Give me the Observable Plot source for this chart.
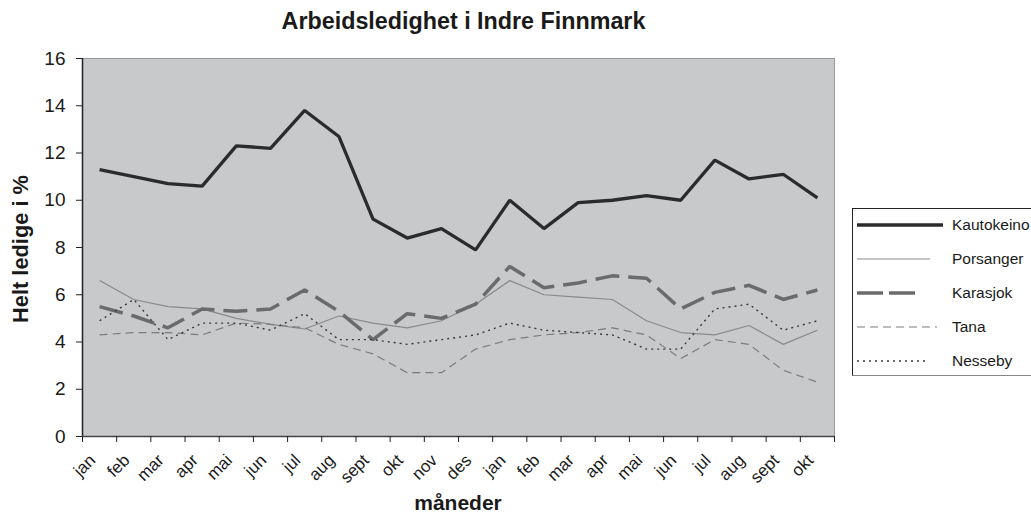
<!DOCTYPE html>
<html><head><meta charset="utf-8">
<script src="https://cdn.jsdelivr.net/npm/d3@7"></script>
<script src="https://cdn.jsdelivr.net/npm/@observablehq/plot@0.6"></script>
<style>
body{margin:0;background:#fff;font-family:"Liberation Sans",Arial,sans-serif;color:#1a1a1a}
#wrap{position:relative;width:1031px;height:524px;overflow:hidden}
#chart{position:absolute;left:0;top:0}
.title{position:absolute;left:0;width:927px;top:8px;text-align:center;font-weight:bold;font-size:23.3px}
.ylab{position:absolute;left:21px;top:249px;transform:translate(-50%,-50%) rotate(-90deg);font-weight:bold;font-size:21.8px;white-space:nowrap}
.xlab{position:absolute;left:0;width:916px;top:491px;text-align:center;font-weight:bold;font-size:21px}
.legend{position:absolute;left:852px;top:208px;width:200px;height:168px;border:1px solid #222;border-bottom-color:#888;box-sizing:border-box;background:#fff}
.legend .row{position:absolute;left:0;height:20px;display:flex;align-items:center}
.legend svg{position:absolute;left:4px;top:0}
.legend span{position:absolute;left:99px;top:0;line-height:20px;font-size:15.5px;white-space:nowrap}
</style></head><body>
<div id="wrap">
<div id="chart"></div>
<div class="title">Arbeidsledighet i Indre Finnmark</div>
<div class="ylab">Helt ledige i %</div>
<div class="xlab">måneder</div>
<div class="legend" id="legend"></div>
</div>
<script>
const months = ["jan","feb","mar","apr","mai","jun","jul","aug","sept","okt","nov","des",
                "jan","feb","mar","apr","mai","jun","jul","aug","sept","okt"];
const seriesNames = ["Kautokeino","Porsanger","Karasjok","Tana","Nesseby"];
const kautokeino = [11.3,11.0,10.7,10.6,12.3,12.2,13.8,12.7,9.2,8.4,8.8,7.9,10.0,8.8,9.9,10.0,10.2,10.0,11.7,10.9,11.1,10.1];
const porsanger  = [6.6,5.8,5.5,5.4,5.0,4.75,4.55,5.1,4.8,4.6,4.9,5.6,6.6,6.0,5.9,5.8,4.9,4.4,4.3,4.7,3.9,4.5];
const karasjok   = [5.5,5.1,4.6,5.4,5.3,5.4,6.2,5.3,4.1,5.2,5.0,5.6,7.2,6.3,6.5,6.8,6.7,5.4,6.1,6.4,5.8,6.2];
const tana       = [4.3,4.4,4.4,4.3,4.8,4.75,4.6,3.9,3.5,2.7,2.7,3.7,4.1,4.3,4.4,4.6,4.3,3.3,4.1,3.9,2.8,2.3];
const nesseby    = [4.9,5.8,4.1,4.8,4.8,4.5,5.2,4.1,4.1,3.9,4.1,4.3,4.8,4.5,4.4,4.3,3.7,3.7,5.4,5.6,4.5,4.9];
const yTicks = [0,2,4,6,8,10,12,14,16];

const seriesValues = [kautokeino, porsanger, karasjok, tana, nesseby];
const styles = {
  Kautokeino:{stroke:"#2b2b2b", strokeWidth:3.3, strokeDasharray:null},
  Porsanger:{stroke:"#8a8a8a", strokeWidth:1.2, strokeDasharray:null},
  Karasjok:{stroke:"#6b6b6b", strokeWidth:3.5, strokeDasharray:"24,9"},
  Tana:{stroke:"#7d7d7d", strokeWidth:1.2, strokeDasharray:"8,5"},
  Nesseby:{stroke:"#3a3a3a", strokeWidth:1.4, strokeDasharray:"2,4"}
};

const lineMarks = seriesNames.map((name, k) => {
  const rows = seriesValues[k].map((v, i) => ({i, v}));
  const s = styles[name];
  return Plot.line(rows, {x: d => d.i + 0.5, y: "v", stroke: s.stroke, strokeWidth: s.strokeWidth,
    strokeDasharray: s.strokeDasharray || undefined, strokeLinejoin:"miter", strokeLinecap:"butt"});
});

const plot = Plot.plot({
  width: 1031, height: 524,
  marginLeft: 82, marginRight: 197, marginTop: 58, marginBottom: 88,
  style: {fontFamily: "'Liberation Sans', Arial, sans-serif", background: "transparent", color:"#1a1a1a"},
  x: {domain: [0, months.length], axis: null},
  y: {domain: [0, 16], axis: null},
  marks: [
    Plot.frame({fill: "#c8c9cb", stroke: "#9a9a9a"}),
    ...lineMarks,
    Plot.ruleX([0], {stroke: "#222", strokeWidth: 1.5}),
    Plot.ruleY([0], {stroke: "#444", strokeWidth: 1.5}),
    Plot.axisY({ticks: yTicks, tickSize: 6, tickPadding: 11, fontSize: 19, label: null, stroke: "#222"}),
    Plot.axisX({ticks: d3.range(months.length + 1), tickSize: 6, tickFormat: () => "", label: null, stroke: "#222"}),
    Plot.text(months, {x: (d, i) => i + 0.5, y: () => 0, text: d => d, rotate: -45, textAnchor: "end",
      dx: -7, dy: 21, fontSize: 17, fill: "#1a1a1a"})
  ]
});
document.getElementById("chart").appendChild(plot);

// legend
const legend = document.getElementById("legend");
const sampleLen = {Kautokeino: 86, Porsanger: 73, Karasjok: 60, Tana: 80, Nesseby: 72};
seriesNames.forEach((name, k) => {
  const s = styles[name];
  const row = document.createElement("div");
  row.className = "row";
  row.style.top = (6 + k * 34) + "px";
  row.innerHTML = `<svg width="92" height="20"><line x1="0" x2="${sampleLen[name]}" y1="10" y2="10" stroke="${s.stroke}" stroke-width="${s.strokeWidth}" ${s.strokeDasharray ? `stroke-dasharray="${name==='Karasjok' ? '26,6' : s.strokeDasharray}"` : ""}/></svg><span>${name}</span>`;
  legend.appendChild(row);
});
</script>
</body></html>
